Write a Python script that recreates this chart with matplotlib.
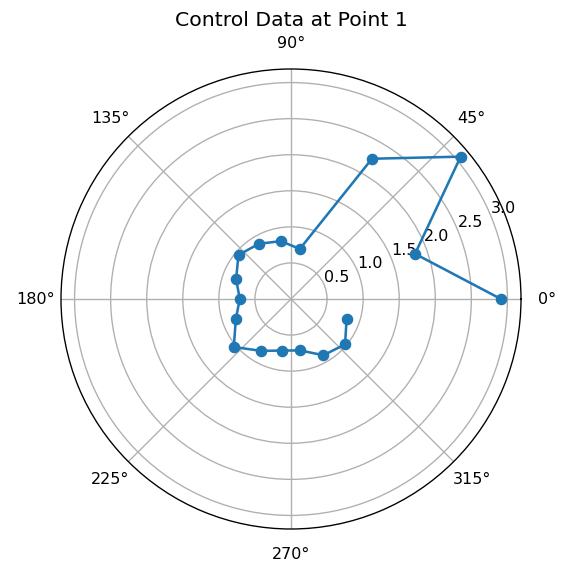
import numpy as np
import matplotlib
matplotlib.use("Agg")
import matplotlib.pyplot as plt

angles_deg = [0, 20, 40, 60, 80, 100, 120, 140, 160, 180, 200, 220, 240, 260, 280, 300, 320, 340]
values = [2.91, 1.83, 3.07, 2.245, 0.705, 0.814, 0.885, 0.95, 0.81, 0.71, 0.814, 1.035, 0.83, 0.726, 0.724, 0.90, 0.978, 0.82]
title = "Control Data at Point 1"

s = 1.22
plt.rcParams.update({
    'font.size': 11.5,
    'axes.titlesize': 12 * s,
    'axes.linewidth': 0.8 * s,
    'grid.linewidth': 0.8 * s,
    'lines.linewidth': 1.5 * s,
    'lines.markersize': 6 * s,
    'xtick.major.pad': 8,
})

fig = plt.figure(figsize=(5.7, 5.76), dpi=100)
ax = fig.add_axes([61/570, (576-529)/576, 460/570, 460/576], projection='polar')
theta = np.deg2rad(angles_deg)
ax.plot(theta, values, marker='o', color='#1f77b4')
ax.set_title(title, pad=6 * s)
fig.savefig("out.png", dpi=100)
